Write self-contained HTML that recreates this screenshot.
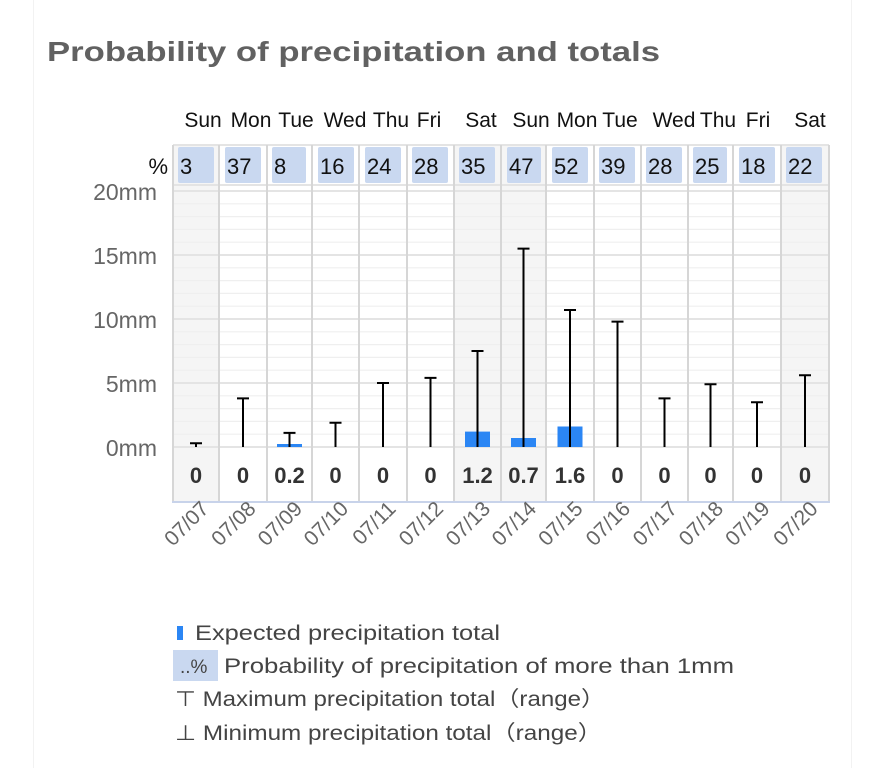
<!DOCTYPE html>
<html><head><meta charset="utf-8"><style>
html,body{margin:0;padding:0;background:#fff;}
svg{display:block;font-family:"Liberation Sans",sans-serif;}
</style></head><body>
<svg width="885" height="768" viewBox="0 0 885 768" xmlns="http://www.w3.org/2000/svg">
<line x1="33.5" y1="0" x2="33.5" y2="768" stroke="#f2f2f2"/>
<line x1="851.5" y1="0" x2="851.5" y2="768" stroke="#f2f2f2"/>
<text x="47" y="61" font-size="28" font-weight="bold" fill="#616161" textLength="613" lengthAdjust="spacingAndGlyphs">Probability of precipitation and totals</text>

<g fill="#f5f5f5">
<rect x="173" y="145" width="46" height="357"/>
<rect x="454" y="145" width="92" height="357"/>
<rect x="781" y="145" width="48" height="357"/>
</g>

<g stroke="#efefef" stroke-width="1.2">
<line x1="173" x2="829" y1="434.2" y2="434.2"/><line x1="173" x2="829" y1="421.4" y2="421.4"/>
<line x1="173" x2="829" y1="408.6" y2="408.6"/><line x1="173" x2="829" y1="395.8" y2="395.8"/>
<line x1="173" x2="829" y1="370.2" y2="370.2"/><line x1="173" x2="829" y1="357.4" y2="357.4"/>
<line x1="173" x2="829" y1="344.6" y2="344.6"/><line x1="173" x2="829" y1="331.8" y2="331.8"/>
<line x1="173" x2="829" y1="306.2" y2="306.2"/><line x1="173" x2="829" y1="293.4" y2="293.4"/>
<line x1="173" x2="829" y1="280.6" y2="280.6"/><line x1="173" x2="829" y1="267.8" y2="267.8"/>
<line x1="173" x2="829" y1="242.2" y2="242.2"/><line x1="173" x2="829" y1="229.4" y2="229.4"/>
<line x1="173" x2="829" y1="216.6" y2="216.6"/><line x1="173" x2="829" y1="203.8" y2="203.8"/>
</g>
<g stroke="#e4e4e4" stroke-width="2">
<line x1="173" x2="829" y1="447" y2="447"/><line x1="173" x2="829" y1="383" y2="383"/>
<line x1="173" x2="829" y1="319" y2="319"/><line x1="173" x2="829" y1="255" y2="255"/>
<line x1="173" x2="829" y1="191" y2="191"/><line x1="173" x2="829" y1="185" y2="185"/>
<line x1="173" x2="829" y1="145" y2="145"/>
</g>
<g stroke="#d6d6d6" stroke-width="2">
<line x1="173" x2="173" y1="145" y2="502"/><line x1="219" x2="219" y1="145" y2="502"/>
<line x1="267" x2="267" y1="145" y2="502"/><line x1="312" x2="312" y1="145" y2="502"/>
<line x1="359" x2="359" y1="145" y2="502"/><line x1="407" x2="407" y1="145" y2="502"/>
<line x1="454" x2="454" y1="145" y2="502"/><line x1="501" x2="501" y1="145" y2="502"/>
<line x1="546" x2="546" y1="145" y2="502"/><line x1="594" x2="594" y1="145" y2="502"/>
<line x1="641" x2="641" y1="145" y2="502"/><line x1="688" x2="688" y1="145" y2="502"/>
<line x1="733" x2="733" y1="145" y2="502"/><line x1="781" x2="781" y1="145" y2="502"/>
<line x1="829" x2="829" y1="145" y2="502"/>
</g>
<line x1="172" x2="830" y1="502" y2="502" stroke="#c8d3ea" stroke-width="2"/>

<g font-size="21" text-anchor="middle" fill="#111">
<text x="203" y="127">Sun</text><text x="251" y="127">Mon</text><text x="296" y="127">Tue</text>
<text x="345" y="127">Wed</text><text x="391" y="127">Thu</text><text x="429" y="127">Fri</text>
<text x="481" y="127">Sat</text><text x="531" y="127">Sun</text><text x="577" y="127">Mon</text>
<text x="620" y="127">Tue</text><text x="674" y="127">Wed</text><text x="718" y="127">Thu</text>
<text x="758" y="127">Fri</text><text x="810" y="127">Sat</text>
</g>

<g fill="#c9d8f0">
<rect x="178" y="147" width="36" height="36" rx="2"/><rect x="225" y="147" width="36" height="36" rx="2"/>
<rect x="272" y="147" width="34" height="36" rx="2"/><rect x="318" y="147" width="36" height="36" rx="2"/>
<rect x="365" y="147" width="36" height="36" rx="2"/><rect x="412" y="147" width="36" height="36" rx="2"/>
<rect x="459" y="147" width="36" height="36" rx="2"/><rect x="507" y="147" width="34" height="36" rx="2"/>
<rect x="552" y="147" width="36" height="36" rx="2"/><rect x="599" y="147" width="36" height="36" rx="2"/>
<rect x="646" y="147" width="36" height="36" rx="2"/><rect x="693" y="147" width="34" height="36" rx="2"/>
<rect x="739" y="147" width="36" height="36" rx="2"/><rect x="786" y="147" width="36" height="36" rx="2"/>
</g>
<g font-size="22" fill="#111">
<text x="168" y="174" text-anchor="end">%</text>
<text x="180" y="174">3</text><text x="227" y="174">37</text><text x="274" y="174">8</text>
<text x="320" y="174">16</text><text x="367" y="174">24</text><text x="414" y="174">28</text>
<text x="461" y="174">35</text><text x="509" y="174">47</text><text x="554" y="174">52</text>
<text x="601" y="174">39</text><text x="648" y="174">28</text><text x="695" y="174">25</text>
<text x="741" y="174">18</text><text x="788" y="174">22</text>
</g>

<g font-size="23" text-anchor="end" fill="#666">
<text x="157" y="456">0mm</text><text x="157" y="392">5mm</text><text x="157" y="328">10mm</text>
<text x="157" y="264">15mm</text><text x="157" y="200">20mm</text>
</g>

<g fill="#2b86f4">
<rect x="277" y="444" width="25" height="3"/>
<rect x="465" y="431.6" width="25" height="15.4"/>
<rect x="511" y="438" width="25" height="9"/>
<rect x="557.5" y="426.5" width="25" height="20.5"/>
</g>

<g stroke="#000" stroke-width="2">
<path d="M196 443.2V447M190 443.2H202"/>
<path d="M243 398.4V447M237 398.4H249"/>
<path d="M289.5 432.9V447M283.5 432.9H295.5"/>
<path d="M335.5 422.7V447M329.5 422.7H341.5"/>
<path d="M383 383V447M377 383H389"/>
<path d="M430.5 377.9V447M424.5 377.9H436.5"/>
<path d="M477.5 351V447M471.5 351H483.5"/>
<path d="M523.5 248.6V447M517.5 248.6H529.5"/>
<path d="M570 310V447M564 310H576"/>
<path d="M617.5 321.6V447M611.5 321.6H623.5"/>
<path d="M664.5 398.4V447M658.5 398.4H670.5"/>
<path d="M710.5 384.3V447M704.5 384.3H716.5"/>
<path d="M757 402.2V447M751 402.2H763"/>
<path d="M805 375.3V447M799 375.3H811"/>
</g>

<g font-size="22" font-weight="bold" text-anchor="middle" fill="#333">
<text x="196" y="483">0</text><text x="243" y="483">0</text><text x="289.5" y="483">0.2</text>
<text x="335.5" y="483">0</text><text x="383" y="483">0</text><text x="430.5" y="483">0</text>
<text x="477.5" y="483">1.2</text><text x="523.5" y="483">0.7</text><text x="570" y="483">1.6</text>
<text x="617.5" y="483">0</text><text x="664.5" y="483">0</text><text x="710.5" y="483">0</text>
<text x="757" y="483">0</text><text x="805" y="483">0</text>
</g>

<g font-size="21" text-anchor="end" fill="#666">
<text transform="translate(210,510) rotate(-45)">07/07</text>
<text transform="translate(257,510) rotate(-45)">07/08</text>
<text transform="translate(303.5,510) rotate(-45)">07/09</text>
<text transform="translate(349.5,510) rotate(-45)">07/10</text>
<text transform="translate(397,510) rotate(-45)">07/11</text>
<text transform="translate(444.5,510) rotate(-45)">07/12</text>
<text transform="translate(491.5,510) rotate(-45)">07/13</text>
<text transform="translate(537.5,510) rotate(-45)">07/14</text>
<text transform="translate(584,510) rotate(-45)">07/15</text>
<text transform="translate(631.5,510) rotate(-45)">07/16</text>
<text transform="translate(678.5,510) rotate(-45)">07/17</text>
<text transform="translate(724.5,510) rotate(-45)">07/18</text>
<text transform="translate(771,510) rotate(-45)">07/19</text>
<text transform="translate(819,510) rotate(-45)">07/20</text>
</g>

<g font-size="21" fill="#444">
<rect x="177" y="626" width="6" height="14" fill="#2b86f4"/>
<text x="195" y="640" textLength="305" lengthAdjust="spacingAndGlyphs">Expected precipitation total</text>
<rect x="173" y="650" width="45" height="31" fill="#c9d8f0"/>
<text x="180" y="673" font-size="19">..%</text>
<text x="224" y="673" textLength="510" lengthAdjust="spacingAndGlyphs">Probability of precipitation of more than 1mm</text>
<text x="175" y="706" textLength="430" lengthAdjust="spacingAndGlyphs">⊤ Maximum precipitation total（range）</text>
<text x="175" y="740" textLength="427" lengthAdjust="spacingAndGlyphs">⊥ Minimum precipitation total（range）</text>
</g>
</svg>
</body></html>
